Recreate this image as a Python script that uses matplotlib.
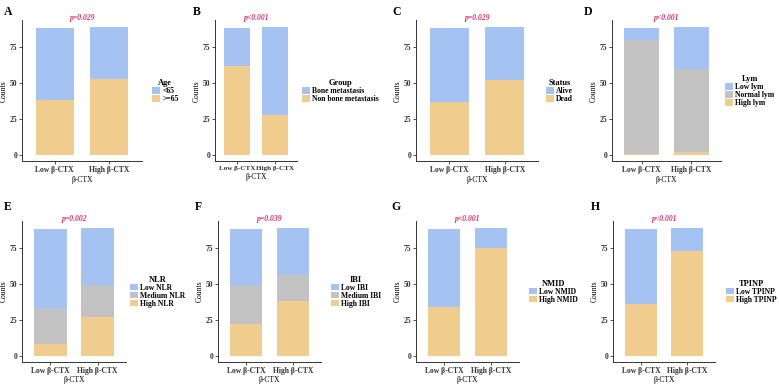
import matplotlib.pyplot as plt
from matplotlib.patches import Patch

plt.rcParams['font.family'] = ['Liberation Serif', 'DejaVu Serif']
plt.rcParams['font.weight'] = 'bold'

groups = ['Low β-CTX', 'High β-CTX']

BLUE = '#A4C2F2'
GRAY = '#C2C2C2'
ORANGE = '#F0CC8E'
PINK = '#D9306B'

# panel data: stacked bottom -> top
age_ge65 = [38, 53]
age_lt65 = [50, 36]
non_bone = [62, 28]
bone = [26, 61]
dead = [37, 52]
alive = [51, 37]
high_lym = [1, 2]
normal_lym = [79, 58]
low_lym = [8, 29]
high_nlr = [8, 27]
medium_nlr = [25, 22]
low_nlr = [55, 40]
high_ibi = [22, 38]
medium_ibi = [27, 18]
low_ibi = [39, 33]
high_nmid = [34, 75]
low_nmid = [54, 14]
high_tpinp = [36, 73]
low_tpinp = [52, 16]

panels = [
    # letter, p, legend title, [(label, values, color)] top->bottom, axes px (left, right), row, legend key x, letter x
    ('A', 'p=0.029', 'Age', [('<65', age_lt65, BLUE), ('>=65', age_ge65, ORANGE)], (22, 142), 0, 152, 4),
    ('B', 'p<0.001', 'Group', [('Bone metastasis', bone, BLUE), ('Non bone metastasis', non_bone, ORANGE)], (215, 297), 0, 302, 193),
    ('C', 'p=0.029', 'Status', [('Alive', alive, BLUE), ('Dead', dead, ORANGE)], (416, 538), 0, 546, 392),
    ('D', 'p<0.001', 'Lym', [('Low lym', low_lym, BLUE), ('Normal lym', normal_lym, GRAY), ('High lym', high_lym, ORANGE)], (612, 721), 0, 725, 584),
    ('E', 'p=0.002', 'NLR', [('Low NLR', low_nlr, BLUE), ('Medium NLR', medium_nlr, GRAY), ('High NLR', high_nlr, ORANGE)], (22, 126), 1, 130, 4),
    ('F', 'p=0.039', 'IBI', [('Low IBI', low_ibi, BLUE), ('Medium IBI', medium_ibi, GRAY), ('High IBI', high_ibi, ORANGE)], (218, 321), 1, 331, 195),
    ('G', 'p<0.001', 'NMID', [('Low NMID', low_nmid, BLUE), ('High NMID', high_nmid, ORANGE)], (416, 519), 1, 529, 391),
    ('H', 'p<0.001', 'TPINP', [('Low TPINP', low_tpinp, BLUE), ('High TPINP', high_tpinp, ORANGE)], (613, 715), 1, 726, 591),
]

W, H = 779, 385
fig = plt.figure(figsize=(W / 100, H / 100), dpi=100)

rows = [(20.4, 161.4), (221.1, 362.1)]  # top, bottom px
letter_y = [12, 207]
for letter, pval, ltitle, series, (xl, xr), row, keyx, letx in panels:
    top, bot = rows[row]
    ax = fig.add_axes([xl / W, 1 - bot / H, (xr - xl) / W, (bot - top) / H])
    x = [0, 1]
    bottom = [0, 0]
    for label, vals, color in reversed(series):
        ax.bar(x, vals, 0.7, bottom=bottom, color=color, linewidth=0)
        bottom = [b + v for b, v in zip(bottom, vals)]
    ax.set_xlim(-0.6, 1.6)
    ax.set_ylim(-4.45, 93.45)
    ax.set_yticks([0, 25, 50, 75])
    ax.set_xticks(x)
    ax.set_xticklabels(groups)
    ax.tick_params(labelsize=5.5, length=2, width=0.6, pad=1.5, colors='#333333')
    if letter == 'B':
        ax.tick_params(axis='x', labelsize=5.1)
    for s in ['top', 'right']:
        ax.spines[s].set_visible(False)
    for s in ['left', 'bottom']:
        ax.spines[s].set_linewidth(0.7)
        ax.spines[s].set_color('#333333')
    ax.set_xlabel('β-CTX', fontsize=5.5, labelpad=1)
    ax.set_ylabel('Counts', fontsize=5.5, labelpad=1.2)
    fig.text((xl + xr) / 2 / W, 1 - (top - 2) / H, pval, color=PINK, style='italic',
             fontsize=5.5, ha='center', va='center')
    fig.text(letx / W, 1 - letter_y[row] / H, letter, fontsize=8.5, ha='left', va='center')
    handles = [Patch(facecolor=c, edgecolor='none', label=l) for l, _, c in series]
    cy = 91 if row == 0 else 291.5
    leg = fig.legend(handles=handles, title=ltitle, loc='center left',
                     bbox_to_anchor=(keyx / W, 1 - cy / H), frameon=False,
                     fontsize=5.5, title_fontsize=6, handlelength=1.0, handleheight=0.9,
                     handletextpad=0.35, labelspacing=0.0, borderpad=0, borderaxespad=0)
    leg.get_title().set_fontweight('bold')

fig.savefig('out.png', dpi=100)
